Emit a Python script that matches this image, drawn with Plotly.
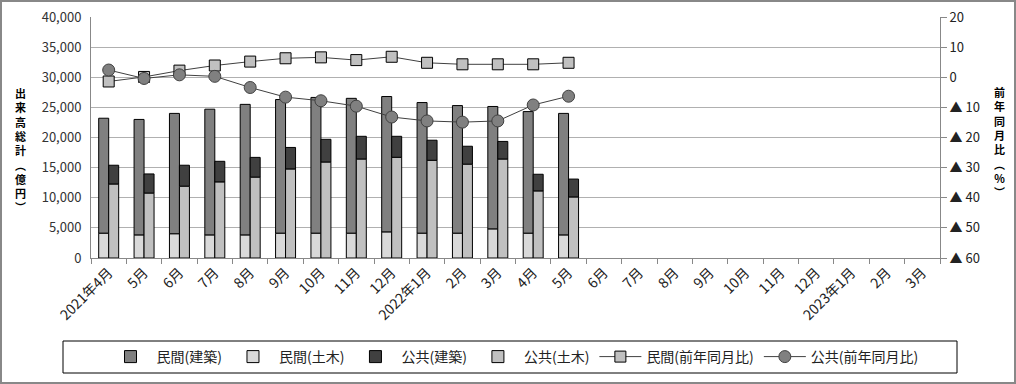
import plotly.graph_objects as go

# ---- data ----
months_key = ["2021-04", "2021-05", "2021-06", "2021-07", "2021-08", "2021-09", "2021-10", "2021-11", "2021-12",
              "2022-01", "2022-02", "2022-03", "2022-04", "2022-05", "2022-06", "2022-07", "2022-08", "2022-09",
              "2022-10", "2022-11", "2022-12", "2023-01", "2023-02", "2023-03"]
month_labels = ["2021年4月", "5月", "6月", "7月", "8月", "9月", "10月", "11月", "12月",
                "2022年1月", "2月", "3月", "4月", "5月", "6月", "7月", "8月", "9月",
                "10月", "11月", "12月", "2023年1月", "2月", "3月"]

priv_civil = [4100, 3800, 4000, 3800, 3800, 4100, 4100, 4100, 4300, 4100, 4100, 4800, 4100, 3800]
priv_build = [19100, 19200, 20000, 20900, 21700, 22200, 22550, 22400, 22500, 21700, 21200, 20350, 20200, 20200]
pub_civil = [12250, 10750, 11900, 12600, 13400, 14750, 15900, 16400, 16700, 16200, 15550, 16400, 11100, 10100]
pub_build = [3150, 3200, 3500, 3450, 3300, 3600, 3800, 3800, 3500, 3350, 3000, 2950, 2800, 3000]
yoy_priv = [-1.4, 0.1, 2.2, 3.9, 5.2, 6.3, 6.6, 5.7, 6.8, 4.8, 4.3, 4.3, 4.3, 4.8]
yoy_pub = [2.4, -0.4, 0.8, 0.3, -3.4, -6.6, -7.8, -9.6, -13.2, -14.5, -14.9, -14.5, -9.2, -6.3]

right_ticks = [20, 10, 0, -10, -20, -30, -40, -50, -60]
right_ticktext = ["20", "10", "0", "▲ 10", "▲ 20", "▲ 30", "▲ 40", "▲ 50", "▲ 60"]

FONT = "Noto Sans CJK JP"
n = len(priv_civil)
xk = months_key[:n]

fig = go.Figure()
bar_line = dict(color="#000000", width=1)

fig.add_trace(go.Bar(name="民間(建築)", x=xk, y=priv_build, base=priv_civil, offsetgroup="priv",
                     marker=dict(color="#808080", line=bar_line)))
fig.add_trace(go.Bar(name="民間(土木)", x=xk, y=priv_civil, offsetgroup="priv",
                     marker=dict(color="#d9d9d9", line=bar_line)))
fig.add_trace(go.Bar(name="公共(建築)", x=xk, y=pub_build, base=pub_civil, offsetgroup="pub",
                     marker=dict(color="#404040", line=bar_line)))
fig.add_trace(go.Bar(name="公共(土木)", x=xk, y=pub_civil, offsetgroup="pub",
                     marker=dict(color="#c0c0c0", line=bar_line)))
fig.add_trace(go.Scatter(name="民間(前年同月比)", x=xk, y=yoy_priv, yaxis="y2", mode="lines+markers",
                         line=dict(color="#404040", width=1),
                         marker=dict(symbol="square", size=11, color="#c0c0c0",
                                     line=dict(color="#000000", width=1))))
fig.add_trace(go.Scatter(name="公共(前年同月比)", x=xk, y=yoy_pub, yaxis="y2", mode="lines+markers",
                         line=dict(color="#404040", width=1),
                         marker=dict(symbol="circle", size=12, color="#808080",
                                     line=dict(color="#404040", width=1))))

W, H = 1016, 384
L, R, T, B = 91, 940, 17, 258


def px(xp):
    return (xp - L) / (R - L)


def py(yp):
    return (B - yp) / (B - T)


fig.update_layout(
    width=W, height=H,
    margin=dict(l=L, r=W - R, t=T, b=H - B, autoexpand=False),
    paper_bgcolor="white", plot_bgcolor="white",
    font=dict(family=FONT, size=13, color="#333333"),
    barmode="group", bargap=0.435, bargroupgap=0,
    showlegend=True,
    legend=dict(orientation="h", x=px(514), xanchor="center", y=py(357), yanchor="middle",
                font=dict(size=14, color="#222222"), bgcolor="rgba(0,0,0,0)",
                traceorder="normal", itemwidth=42),
    xaxis=dict(type="category", categoryorder="array", categoryarray=months_key,
               range=[-0.5, 23.5],
               tickmode="array", tickvals=months_key, ticktext=month_labels,
               tickangle=-45, tickson="boundaries", ticks="outside", ticklen=5, tickcolor="#888888",
               showline=True, linecolor="#888888", linewidth=1, showgrid=False,
               tickfont=dict(size=14, color="#222222")),
    yaxis=dict(range=[0, 40000], dtick=5000, tickformat=",", showgrid=True, gridcolor="#b0b0b0",
               showline=True, linecolor="#888888", linewidth=1, ticks="", zeroline=False,
               ticklabelstandoff=6, tickfont=dict(size=13, color="#333333")),
    yaxis2=dict(overlaying="y", side="right", range=[-60, 20], tickmode="array",
                tickvals=right_ticks, ticktext=right_ticktext, showgrid=False, zeroline=False,
                showline=True, linecolor="#888888", linewidth=1, ticks="outside", ticklen=6,
                tickcolor="#888888", tickfont=dict(size=13, color="#222222")),
)

# axis titles (stacked vertical text)
fig.add_annotation(text="<br>".join(list("出来高総計︵億円︶")), xref="paper", yref="paper",
                   x=px(20), y=py(150), xanchor="center", yanchor="middle", showarrow=False,
                   font=dict(family=FONT, size=11, color="#000000", weight="bold"))
fig.add_annotation(text="<br>".join(list("前年同月比︵%︶")), xref="paper", yref="paper",
                   x=px(999), y=py(142), xanchor="center", yanchor="middle", showarrow=False,
                   font=dict(family=FONT, size=11, color="#000000", weight="bold"))

# legend box and outer frame
fig.add_shape(type="rect", xref="paper", yref="paper", x0=px(63), x1=px(957), y0=py(373), y1=py(341),
              line=dict(color="#000000", width=1), layer="above")
fig.add_shape(type="rect", xref="paper", yref="paper", x0=px(1), x1=px(1015), y0=py(383), y1=py(1),
              line=dict(color="#888888", width=2), layer="above")

fig.write_html("out.html", config={"displayModeBar": False},
               post_script="document.body.style.margin='0';document.body.style.overflow='hidden';")
